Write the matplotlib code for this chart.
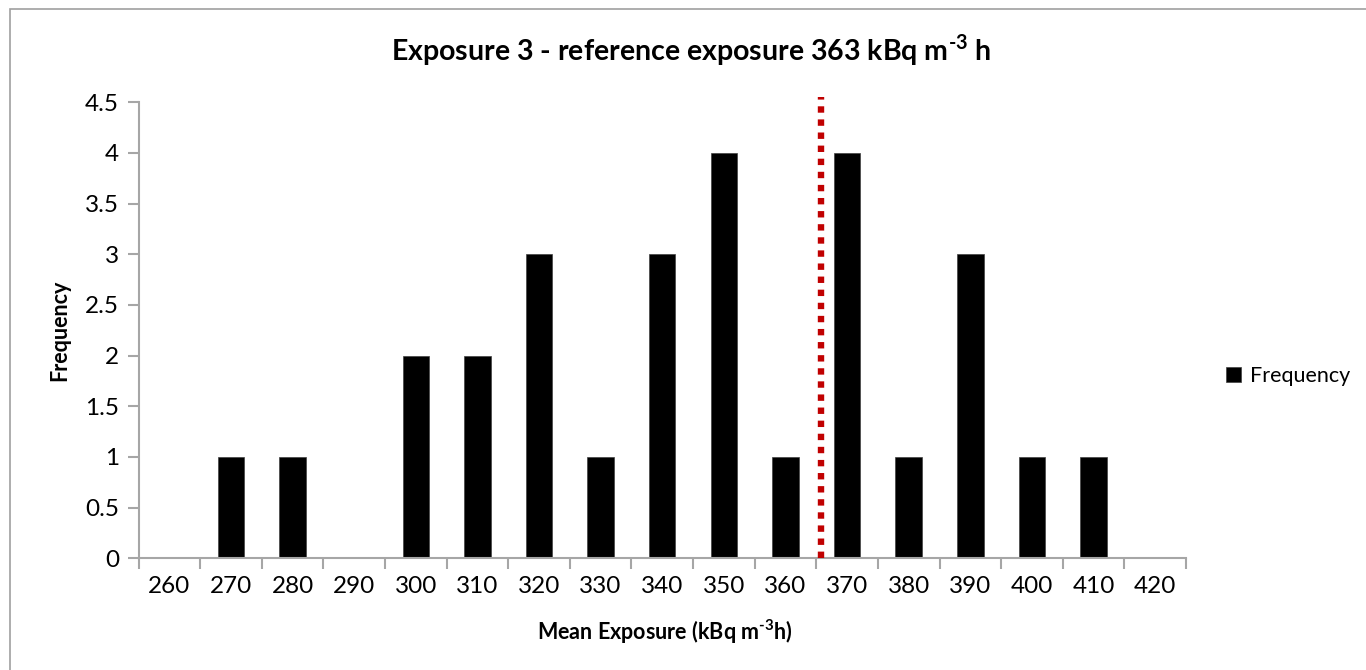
import matplotlib.pyplot as plt
from matplotlib.patches import Rectangle

plt.rcParams['font.family'] = ['Lato', 'DejaVu Sans']
plt.rcParams['mathtext.fontset'] = 'custom'
# all mathtext here sits inside bold labels
plt.rcParams['mathtext.rm'] = 'Lato:bold'
plt.rcParams['mathtext.bf'] = 'Lato:bold'

# histogram data
exposure = [260, 270, 280, 290, 300, 310, 320, 330, 340, 350, 360, 370, 380, 390, 400, 410, 420]
frequency = [0, 1, 1, 0, 2, 2, 3, 1, 3, 4, 1, 4, 1, 3, 1, 1, 0]
ref_line = 365.8  # where the dotted reference marker sits on the category axis

grey = '#A6A6A6'

fig = plt.figure(figsize=(13.66, 6.70), dpi=100)
ax = fig.add_axes([0.1014, 0.1667, 0.7668, 0.6806])

pos = list(range(len(exposure)))
ax.bar(pos, frequency, width=0.43, color='black', edgecolor='#404040', linewidth=0.5,
       label='Frequency', zorder=2)

# reference line, converted from exposure to category position
ref_pos = (ref_line - exposure[0]) / 10
ax.vlines(ref_pos, 0, 4.55, colors='#C00000', linewidth=4.6, linestyles=(0, (1, 1.05)),
          clip_on=False, zorder=3)

ax.set_xlim(-0.5, len(exposure) - 0.5)
ax.set_ylim(0, 4.5)
ax.set_yticks([i * 0.5 for i in range(10)])
ax.set_yticklabels(['0', '0.5', '1', '1.5', '2', '2.5', '3', '3.5', '4', '4.5'])

ax.set_xticks(pos)
ax.set_xticklabels([str(v) for v in exposure])
ax.set_xticks([p - 0.5 for p in pos] + [len(exposure) - 0.5], minor=True)
ax.tick_params(axis='x', which='major', length=0, labelsize=17.5, pad=13)
ax.tick_params(axis='x', which='minor', length=8, color=grey, width=1.5)
ax.tick_params(axis='y', length=8, color=grey, width=1.5, labelsize=17.5, pad=6)

for s in ['top', 'right']:
    ax.spines[s].set_visible(False)
for s in ['left', 'bottom']:
    ax.spines[s].set_color(grey)
    ax.spines[s].set_linewidth(1.5)

fig.text(0.506, 0.925, r'Exposure 3 - reference exposure 363 kBq m$^{\text{-3}}$ h',
         ha='center', va='center', fontsize=20.5, fontweight='bold')
fig.text(0.487, 0.057, r'Mean Exposure (kBq m$^{\text{-3}}$h)',
         ha='center', va='center', fontsize=15.5, fontweight='bold')
fig.text(0.044, 0.507, 'Frequency', ha='center', va='center', rotation=90,
         fontsize=15.5, fontweight='bold')

ax.legend(loc='center left', bbox_to_anchor=(1.02, 0.40), frameon=False, fontsize=15.5,
          handlelength=0.7, handleheight=0.7, handletextpad=0.4)

fig.patches.append(Rectangle((0.0073, -0.05), 1.1, 1.0366, transform=fig.transFigure,
                             fill=False, edgecolor='#A0A0A0', linewidth=1.2))

fig.savefig('out.png', dpi=100)
